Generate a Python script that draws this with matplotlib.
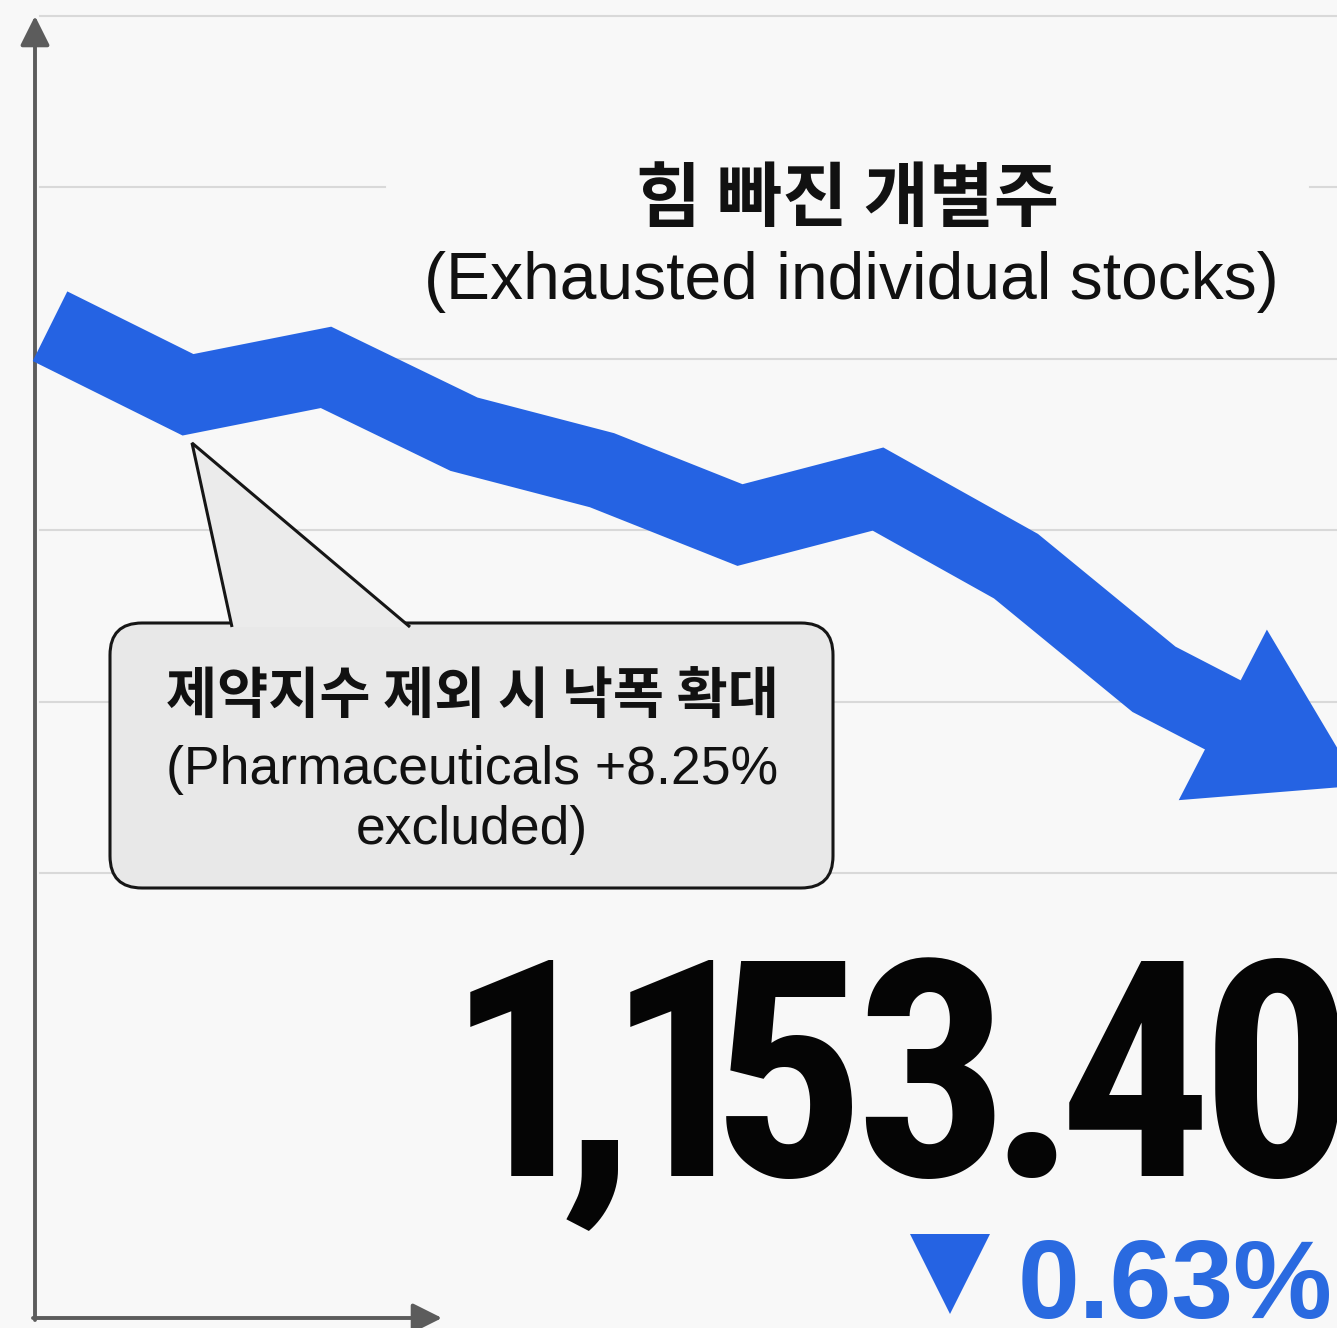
import numpy as np
import matplotlib
matplotlib.use("Agg")
import matplotlib.pyplot as plt
import matplotlib.patches as patches
from matplotlib import font_manager
from matplotlib.textpath import TextPath

# trading sessions and index level for the falling band (last point = arrow tip)
sessions = [0, 1, 2, 3, 4, 5, 6, 7, 8, 9.49]
levels = [1191.9, 1187.9, 1189.5, 1185.6, 1183.5, 1180.3, 1182.4, 1177.9, 1171.3, 1165.1]
grid_levels = [1210, 1200, 1190, 1180, 1170, 1160]

title_kr = "힘 빠진 개별주"
title_en = "(Exhausted individual stocks)"
note_kr = "제약지수 제외 시 낙폭 확대"
note_en = "(Pharmaceuticals +8.25%\nexcluded)"
close_value = "1,153.40"
change_pct = "0.63%"

W, H = 1337, 1328
bg = "#f8f8f8"
blue = "#2563e3"
kr_font = ["Noto Sans CJK KR", "DejaVu Sans"]
en_font = ["Liberation Sans", "DejaVu Sans"]

# condensed face for the big number (tight tracking done by hand below)
num_font, num_size = ["Barlow Condensed", "DejaVu Sans"], 222
try:
    font_manager.findfont(font_manager.FontProperties(family="Roboto Condensed", weight="bold"),
                          fallback_to_default=False)
    num_font, num_size = ["Roboto Condensed", "DejaVu Sans"], 218
except ValueError:
    pass
num_gap = 13

fig = plt.figure(figsize=(W / 100, H / 100), dpi=100)
fig.patch.set_facecolor(bg)

# background layer: axis arrows, pixel coords
back = fig.add_axes([0, 0, 1, 1])
back.set_xlim(0, W)
back.set_ylim(H, 0)
back.axis("off")
back.set_facecolor(bg)

# data layer
ax = fig.add_axes([0, 0, 1, 1])
x0 = -50 / 138
x1 = (W - 50) / 138
ax.set_xlim(x0, x1)
lv_top = 1210 + 16 / 17.14
ax.set_ylim(lv_top - H / 17.14, lv_top)
ax.axis("off")
ax.patch.set_alpha(0)

# grid lines (in level units), the 1200 line is broken by the title
grid_kw = dict(color="#d9d9d9", lw=1.5, zorder=1)
gx0 = (40 - 50) / 138
for g in grid_levels:
    if g == 1200:
        ax.plot([gx0, (385 - 50) / 138], [g, g], **grid_kw)
        ax.plot([(1310 - 50) / 138, x1], [g, g], **grid_kw)
    else:
        ax.plot([gx0, x1], [g, g], **grid_kw)

# axis arrows
axis_col = "#5c5c5c"
arrow_kw = dict(arrowstyle="-|>,head_length=1.0,head_width=0.5", lw=2.8,
                color=axis_col, shrinkA=0, shrinkB=0, mutation_scale=18)
back.annotate("", xy=(35, 16), xytext=(35, 1320), arrowprops=arrow_kw)
back.annotate("", xy=(442, 1318), xytext=(33, 1318), arrowprops=arrow_kw)

# band with arrow head, head built in display space
tf = ax.transData
inv = tf.inverted()
pts = tf.transform(np.column_stack([sessions, levels]))
tip = pts[-1]
prev = pts[-2]
u = (tip - prev) / np.linalg.norm(tip - prev)
n = np.array([-u[1], u[0]])
head_len, head_w = 154, 192
base = tip - head_len * u
head = np.array([base + n * head_w / 2, tip, base - n * head_w / 2])
line_d = inv.transform(np.vstack([pts[:-1], base + 3 * u]))
head_d = inv.transform(head)
ax.plot(line_d[:, 0], line_d[:, 1], color=blue, lw=56,
        solid_joinstyle="miter", solid_capstyle="butt", zorder=3)
ax.fill(head_d[:, 0], head_d[:, 1], color=blue, lw=0, zorder=3)

# foreground layer: callout and texts
fg = fig.add_axes([0, 0, 1, 1])
fg.set_xlim(0, W)
fg.set_ylim(H, 0)
fg.axis("off")
fg.patch.set_alpha(0)

box = patches.FancyBboxPatch((110, 623), 723, 265,
                             boxstyle="round,pad=0,rounding_size=32",
                             fc="#e8e8e8", ec="#161616", lw=2.2, zorder=5)
fg.add_patch(box)
pointer = patches.Polygon([(232, 627), (192, 443), (410, 627)], closed=False,
                          fc="#ebebeb", ec="#161616", lw=2.2, zorder=6,
                          joinstyle="miter")
fg.add_patch(pointer)

fg.text(472, 697, note_kr, family=kr_font, weight="bold", fontsize=40,
        ha="center", va="center", color="#111111", zorder=7)
fg.text(472, 800, note_en, family=en_font, fontsize=38.5,
        ha="center", va="center", color="#111111", linespacing=1.28, zorder=7)

fg.text(848, 200, title_kr, family=kr_font, weight="bold", fontsize=51,
        ha="center", va="center", color="#111111", zorder=7)
fg.text(851, 282, title_en, family=en_font, fontsize=47.5,
        ha="center", va="center", color="#111111", zorder=7)

# big closing value, one glyph at a time for the tight spacing
num_prop = font_manager.FontProperties(family=num_font, weight="bold")
size_px = num_size * 100 / 72
xc = 470
for ch in close_value:
    ext = TextPath((0, 0), ch, size=size_px, prop=num_prop).get_extents()
    fg.text(xc - ext.x0, 1176, ch, family=num_font, weight="bold", fontsize=num_size,
            ha="left", va="baseline", color="#050505", zorder=7)
    xc += ext.width + num_gap

# down marker and change
fg.plot([950], [1274], marker="v", ms=57, color=blue, mew=0, zorder=7)
fg.text(1018, 1318, change_pct, family=en_font, weight="bold",
        fontsize=80, ha="left", va="baseline", color="#2a6ae0", zorder=7)

fig.savefig("out.png", dpi=100, facecolor=bg)
